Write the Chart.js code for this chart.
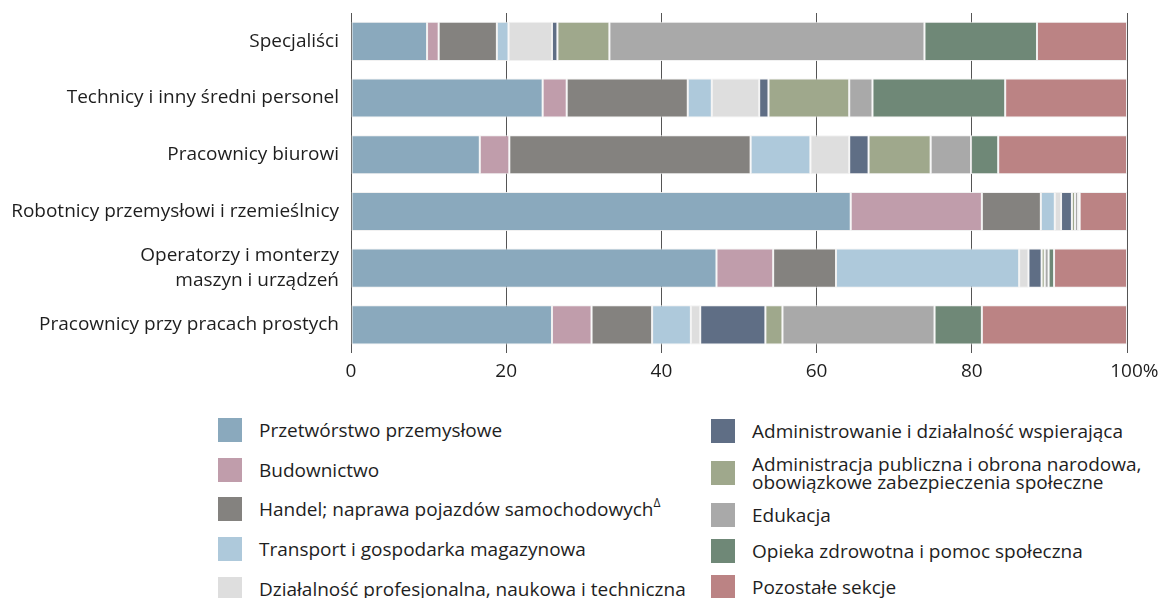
<!DOCTYPE html>
<html lang="pl">
<head>
<meta charset="utf-8">
<script src="https://cdn.jsdelivr.net/npm/chart.js@4/dist/chart.umd.min.js"></script>
<style>
  html, body { margin: 0; padding: 0; background: #fff; }
  body { width: 1161px; height: 598px; position: relative; overflow: hidden; font-family: "Open Sans", sans-serif; color: #1e1e1e; }
  #chartWrap { position: absolute; left: 0; top: 0; width: 1161px; height: 396px; }
  .legend-col { position: absolute; display: flex; flex-direction: column; }
  #legendLeft { left: 218px; top: 418px; gap: 15.7px; }
  #legendRight { left: 711px; top: 419px; gap: 12px; }
  .legend-item { display: flex; align-items: center; font-size: 19px; line-height: 18px; min-height: 24px; }
  .legend-item .sw { width: 24px; height: 24px; flex: none; margin-right: 17px; }
  .legend-item sup { font-size: 12px; vertical-align: 9px; line-height: 0; }
</style>
</head>
<body>
<div id="chartWrap"><canvas id="chart"></canvas></div>
<div id="legendLeft" class="legend-col"></div>
<div id="legendRight" class="legend-col"></div>
<script>
// ---- data (percent of employed, by occupation group) ----
const categories = [
  "Specjaliści",
  "Technicy i inny średni personel",
  "Pracownicy biurowi",
  "Robotnicy przemysłowi i rzemieślnicy",
  ["Operatorzy i monterzy", "maszyn i urządzeń"],
  "Pracownicy przy pracach prostych",
];

const przetworstwo   = [9.8, 24.7, 16.6, 64.4, 47.1, 25.9];
const budownictwo    = [1.5, 3.1, 3.8, 16.9, 7.3, 5.1];
const handel         = [7.5, 15.6, 31.1, 7.6, 8.1, 7.8];
const transport      = [1.5, 3.1, 7.7, 1.8, 23.6, 5.0];
const profesjonalna  = [5.6, 6.1, 5.0, 0.8, 1.2, 1.2];
const administrowanie = [0.7, 1.2, 2.5, 1.4, 1.7, 8.4];
const adminPubliczna = [6.7, 10.4, 8.0, 0.4, 0.4, 2.2];
const edukacja       = [40.6, 3.0, 5.2, 0.4, 0.5, 19.6];
const opieka         = [14.5, 17.1, 3.5, 0.2, 0.7, 6.1];
const pozostale      = [11.6, 15.7, 16.6, 6.1, 9.4, 18.7];

const xTicks = [0, 20, 40, 60, 80, 100];

const seriesLabels = [
  "Przetwórstwo przemysłowe",
  "Budownictwo",
  "Handel; naprawa pojazdów samochodowych",
  "Transport i gospodarka magazynowa",
  "Działalność profesjonalna, naukowa i techniczna",
  "Administrowanie i działalność wspierająca",
  ["Administracja publiczna i obrona narodowa,", "obowiązkowe zabezpieczenia społeczne"],
  "Edukacja",
  "Opieka zdrowotna i pomoc społeczna",
  "Pozostałe sekcje",
];
const seriesMarks = ["", "", "Δ", "", "", "", "", "", "", ""];
const seriesColors = [
  "#8aa9bd", "#c09dab", "#84827f", "#aec9db", "#dedede",
  "#5f6e85", "#9fa88c", "#a9a9a9", "#6f8877", "#bb8384",
];
const seriesValues = [
  przetworstwo, budownictwo, handel, transport, profesjonalna,
  administrowanie, adminPubliczna, edukacja, opieka, pozostale,
];

// ---- chart ----
const FONT = "'Open Sans', sans-serif";

const datasets = seriesValues.map((vals, i) => ({
  label: Array.isArray(seriesLabels[i]) ? seriesLabels[i].join(" ") : seriesLabels[i],
  data: vals,
  backgroundColor: seriesColors[i],
  borderColor: "rgba(240,240,240,0.9)",
  borderWidth: 1,
  borderSkipped: false,
  categoryPercentage: 0.69,
  barPercentage: 1,
}));

new Chart(document.getElementById("chart"), {
  type: "bar",
  data: { labels: categories, datasets },
  options: {
    indexAxis: "y",
    responsive: true,
    maintainAspectRatio: false,
    animation: false,
    layout: { padding: { top: 13, right: 34, bottom: 6, left: 0 } },
    plugins: { legend: { display: false }, tooltip: { enabled: false } },
    scales: {
      x: {
        stacked: true,
        min: 0,
        max: 100,
        afterBuildTicks: axis => { axis.ticks = xTicks.map(v => ({ value: v })); },
        afterFit: axis => { axis.paddingLeft = 0; axis.paddingRight = 0; },
        grid: { color: "#555", lineWidth: 1, drawTicks: false },
        border: { display: false },
        ticks: {
          padding: 7,
          color: "#1e1e1e",
          font: { family: FONT, size: 19 },
          callback: v => (v === 100 ? "   100%" : v),
        },
      },
      y: {
        stacked: true,
        grid: { display: false },
        border: { display: false },
        afterFit: axis => { axis.width = 351; axis.paddingTop = 0; axis.paddingBottom = 0; },
        ticks: {
          padding: 4,
          color: "#1e1e1e",
          font: { family: FONT, size: 19, lineHeight: 1.3 },
        },
      },
    },
  },
});

// ---- legend (two columns, built from the same series arrays) ----
function legendItem(i) {
  const item = document.createElement("div");
  item.className = "legend-item";
  const sw = document.createElement("span");
  sw.className = "sw";
  sw.style.background = seriesColors[i];
  const txt = document.createElement("span");
  const lbl = seriesLabels[i];
  if (Array.isArray(lbl)) {
    lbl.forEach((line, k) => {
      if (k) txt.appendChild(document.createElement("br"));
      txt.appendChild(document.createTextNode(line));
    });
  } else {
    txt.textContent = lbl;
  }
  if (seriesMarks[i]) {
    const sup = document.createElement("sup");
    sup.textContent = seriesMarks[i];
    txt.appendChild(sup);
  }
  item.appendChild(sw);
  item.appendChild(txt);
  return item;
}

const legendLeft = document.getElementById("legendLeft");
const legendRight = document.getElementById("legendRight");
seriesLabels.forEach((_, i) => (i < 5 ? legendLeft : legendRight).appendChild(legendItem(i)));
</script>
</body>
</html>
